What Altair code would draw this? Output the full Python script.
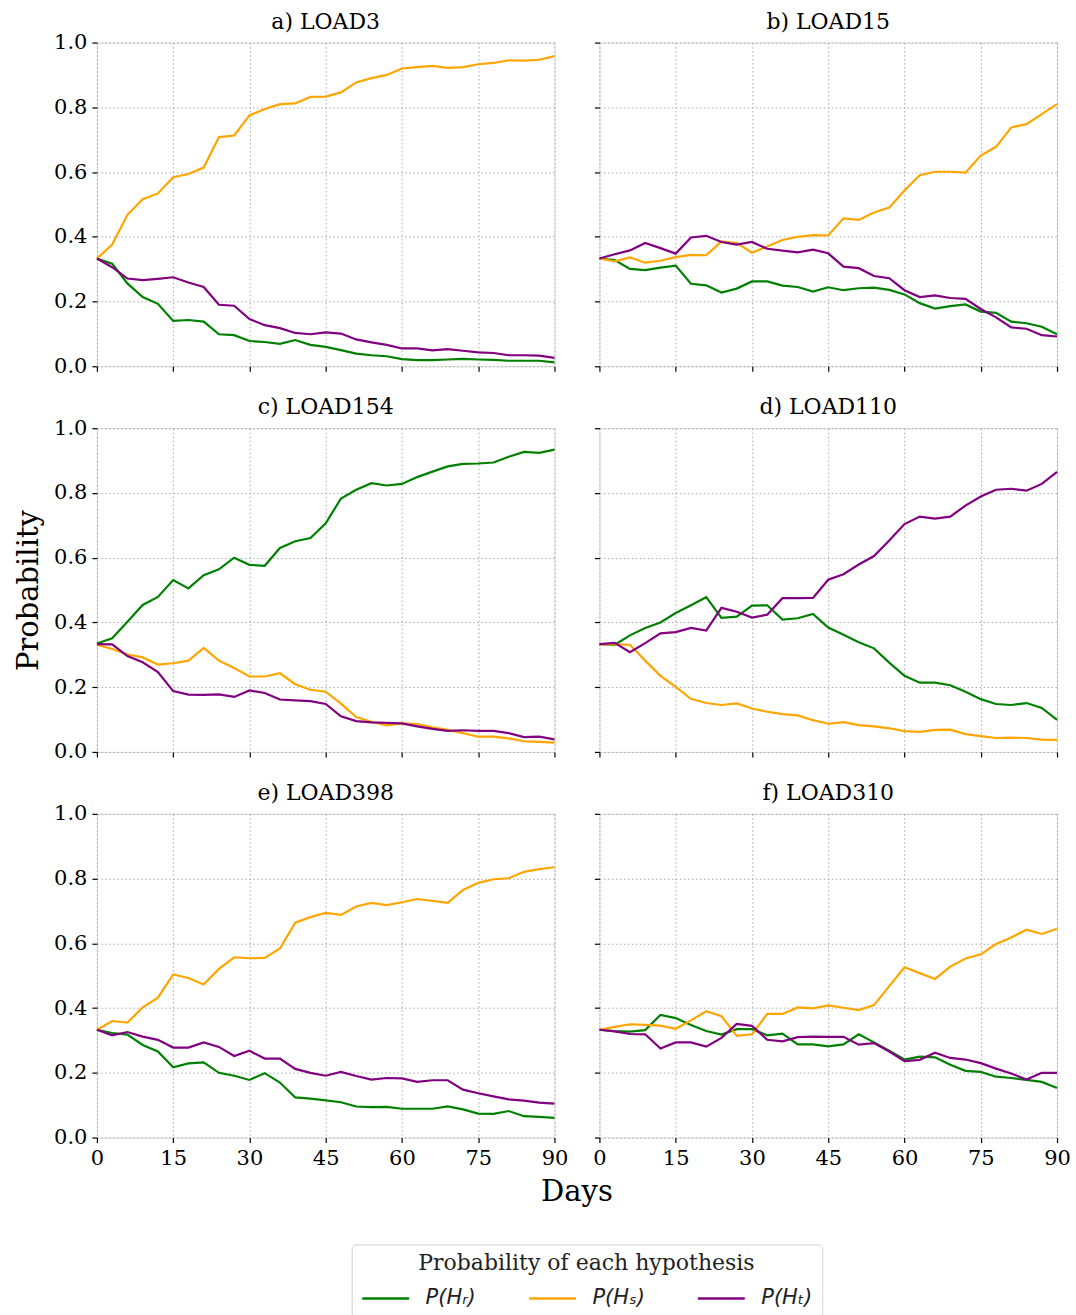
import altair as alt
import pandas as pd

days = list(range(0, 91, 3))
hyp_labels = ["P(Hᵣ)", "P(Hₛ)", "P(Hₜ)"]
hyp_colors = ["green", "orange", "purple"]
panel_titles = ["a) LOAD3", "b) LOAD15", "c) LOAD154", "d) LOAD110", "e) LOAD398", "f) LOAD310"]
x_ticks = [0, 15, 30, 45, 60, 75, 90]
y_ticks = [0.0, 0.2, 0.4, 0.6, 0.8, 1.0]

# a) LOAD3
a_R = [0.333, 0.317, 0.256, 0.214, 0.193, 0.140, 0.143, 0.138, 0.099, 0.096, 0.078, 0.075, 0.069, 0.081, 0.066, 0.060,
       0.050, 0.039, 0.034, 0.031, 0.022, 0.019, 0.019, 0.021, 0.023, 0.021, 0.020, 0.017, 0.017, 0.017, 0.012]
a_S = [0.333, 0.376, 0.468, 0.516, 0.534, 0.584, 0.594, 0.614, 0.708, 0.713, 0.775, 0.795, 0.810, 0.812, 0.832, 0.833,
       0.846, 0.877, 0.890, 0.900, 0.920, 0.924, 0.928, 0.922, 0.924, 0.933, 0.937, 0.945, 0.944, 0.947, 0.958]
a_T = [0.333, 0.306, 0.271, 0.266, 0.270, 0.275, 0.259, 0.245, 0.190, 0.187, 0.146, 0.127, 0.118, 0.103, 0.099, 0.105,
       0.101, 0.083, 0.074, 0.066, 0.055, 0.055, 0.049, 0.053, 0.048, 0.043, 0.041, 0.034, 0.034, 0.033, 0.026]
# b) LOAD15
b_R = [0.333, 0.328, 0.301, 0.297, 0.305, 0.311, 0.255, 0.250, 0.228, 0.240, 0.262, 0.262, 0.249, 0.245, 0.231, 0.244,
       0.235, 0.241, 0.243, 0.236, 0.222, 0.195, 0.178, 0.186, 0.191, 0.169, 0.165, 0.138, 0.133, 0.122, 0.099]
b_S = [0.333, 0.324, 0.336, 0.320, 0.326, 0.337, 0.344, 0.343, 0.386, 0.381, 0.351, 0.370, 0.390, 0.400, 0.405, 0.404,
       0.457, 0.452, 0.475, 0.490, 0.543, 0.590, 0.601, 0.601, 0.598, 0.651, 0.678, 0.738, 0.748, 0.779, 0.810]
b_T = [0.333, 0.346, 0.358, 0.381, 0.365, 0.348, 0.398, 0.403, 0.384, 0.376, 0.384, 0.363, 0.357, 0.352, 0.360, 0.349,
       0.308, 0.303, 0.279, 0.272, 0.235, 0.214, 0.219, 0.211, 0.208, 0.177, 0.151, 0.120, 0.116, 0.096, 0.092]
# c) LOAD154
c_R = [0.335, 0.351, 0.402, 0.454, 0.479, 0.531, 0.505, 0.546, 0.564, 0.600, 0.578, 0.575, 0.630, 0.651, 0.661, 0.706,
       0.783, 0.810, 0.830, 0.823, 0.828, 0.849, 0.866, 0.882, 0.890, 0.891, 0.894, 0.912, 0.927, 0.924, 0.934]
c_S = [0.331, 0.318, 0.301, 0.292, 0.270, 0.274, 0.282, 0.321, 0.282, 0.259, 0.233, 0.233, 0.243, 0.209, 0.192, 0.186,
       0.149, 0.108, 0.093, 0.082, 0.088, 0.086, 0.076, 0.068, 0.058, 0.047, 0.047, 0.042, 0.033, 0.031, 0.029]
c_T = [0.333, 0.332, 0.296, 0.277, 0.247, 0.188, 0.177, 0.176, 0.178, 0.170, 0.190, 0.182, 0.162, 0.159, 0.157, 0.148,
       0.110, 0.095, 0.091, 0.090, 0.088, 0.079, 0.071, 0.065, 0.067, 0.065, 0.065, 0.058, 0.046, 0.047, 0.039]
# d) LOAD110
d_R = [0.333, 0.331, 0.360, 0.383, 0.400, 0.429, 0.453, 0.478, 0.414, 0.418, 0.452, 0.453, 0.409, 0.413, 0.426, 0.384,
       0.362, 0.339, 0.320, 0.276, 0.235, 0.214, 0.214, 0.206, 0.186, 0.163, 0.148, 0.145, 0.151, 0.136, 0.099]
d_S = [0.333, 0.332, 0.331, 0.282, 0.235, 0.201, 0.164, 0.151, 0.145, 0.150, 0.134, 0.124, 0.117, 0.113, 0.098, 0.087,
       0.092, 0.083, 0.079, 0.073, 0.064, 0.062, 0.068, 0.069, 0.055, 0.049, 0.043, 0.044, 0.043, 0.038, 0.037]
d_T = [0.333, 0.337, 0.308, 0.336, 0.366, 0.370, 0.383, 0.375, 0.445, 0.433, 0.415, 0.424, 0.475, 0.475, 0.476, 0.532,
       0.549, 0.579, 0.605, 0.653, 0.704, 0.727, 0.721, 0.727, 0.761, 0.789, 0.810, 0.813, 0.807, 0.828, 0.865]
# e) LOAD398
e_R = [0.333, 0.323, 0.318, 0.286, 0.266, 0.217, 0.229, 0.232, 0.200, 0.191, 0.178, 0.199, 0.170, 0.124, 0.120, 0.115,
       0.109, 0.096, 0.094, 0.095, 0.089, 0.089, 0.089, 0.096, 0.087, 0.074, 0.073, 0.082, 0.066, 0.064, 0.061]
e_S = [0.333, 0.360, 0.355, 0.402, 0.432, 0.504, 0.493, 0.473, 0.521, 0.557, 0.554, 0.555, 0.584, 0.664, 0.681, 0.694,
       0.688, 0.714, 0.725, 0.718, 0.727, 0.737, 0.731, 0.725, 0.765, 0.787, 0.798, 0.801, 0.821, 0.829, 0.835]
e_T = [0.333, 0.316, 0.326, 0.312, 0.302, 0.278, 0.278, 0.294, 0.280, 0.252, 0.268, 0.244, 0.244, 0.212, 0.200, 0.191,
       0.203, 0.190, 0.179, 0.184, 0.183, 0.172, 0.177, 0.177, 0.148, 0.137, 0.127, 0.118, 0.114, 0.108, 0.105]
# f) LOAD310
f_R = [0.333, 0.329, 0.327, 0.332, 0.379, 0.369, 0.348, 0.329, 0.318, 0.335, 0.335, 0.316, 0.321, 0.288, 0.288, 0.282,
       0.288, 0.319, 0.294, 0.268, 0.241, 0.250, 0.248, 0.225, 0.206, 0.203, 0.188, 0.184, 0.178, 0.172, 0.153]
f_S = [0.333, 0.342, 0.350, 0.348, 0.346, 0.336, 0.362, 0.390, 0.375, 0.314, 0.319, 0.382, 0.382, 0.402, 0.399, 0.408,
       0.401, 0.394, 0.409, 0.468, 0.526, 0.508, 0.490, 0.528, 0.553, 0.566, 0.598, 0.618, 0.642, 0.629, 0.645]
f_T = [0.333, 0.328, 0.320, 0.319, 0.275, 0.294, 0.294, 0.281, 0.308, 0.351, 0.345, 0.302, 0.297, 0.310, 0.312, 0.311,
       0.311, 0.287, 0.292, 0.266, 0.236, 0.240, 0.262, 0.246, 0.241, 0.230, 0.213, 0.198, 0.179, 0.200, 0.200]

series = {
    panel_titles[0]: [a_R, a_S, a_T],
    panel_titles[1]: [b_R, b_S, b_T],
    panel_titles[2]: [c_R, c_S, c_T],
    panel_titles[3]: [d_R, d_S, d_T],
    panel_titles[4]: [e_R, e_S, e_T],
    panel_titles[5]: [f_R, f_S, f_T],
}

rows = []
for ptitle, vals in series.items():
    for hi, hv in enumerate(vals):
        for d, v in zip(days, hv):
            rows.append({"panel": ptitle, "day": d, "hyp": hyp_labels[hi], "order": hi, "prob": v})
df = pd.DataFrame(rows)

SERIF = "DejaVu Serif"
PW, PH = 458, 324

color = alt.Color(
    "hyp:N",
    scale=alt.Scale(domain=hyp_labels, range=hyp_colors),
    legend=alt.Legend(
        title="Probability of each hypothesis",
        orient="none",
        legendX=255,
        legendY=1203,
        direction="horizontal",
        columns=3,
        titleAnchor="middle",
        titleFont=SERIF,
        titleFontSize=22,
        titleFontWeight="normal",
        titleColor="#222222",
        titlePadding=-2,
        titleLimit=800,
        labelLimit=300,
        labelFont="DejaVu Sans",
        labelFontStyle="italic",
        labelFontSize=21,
        labelColor="#222222",
        labelOffset=15,
        symbolType="stroke",
        symbolSize=2200,
        symbolStrokeWidth=2.5,
        symbolOpacity=1,
        columnPadding=47,
        padding=9,
        strokeColor="#d0d0d0",
        fillColor="white",
        cornerRadius=4,
    ),
)

GRID = dict(grid=True, gridDash=[1.5, 2.5], gridColor="#a8a8a8", gridWidth=1)
TICK = dict(domain=False, ticks=True, tickSize=5, tickColor="black", tickWidth=1.2,
            labelFont=SERIF, labelFontSize=21, labelColor="black", labelPadding=5)


def panel(idx):
    ptitle = panel_titles[idx]
    col = idx % 2
    row = idx // 2
    sub = df[df["panel"] == ptitle]
    x_kwargs = dict(values=x_ticks, labels=(row == 2), labelFlush=False, **GRID, **TICK)
    if idx == 4:
        x_axis = alt.Axis(title="Days", titleFont=SERIF, titleFontSize=29, titleFontWeight="normal",
                          titleColor="black", titleX=480, titleY=54, titleAlign="center",
                          titleBaseline="middle", **x_kwargs)
    else:
        x_axis = alt.Axis(title=None, **x_kwargs)
    # right column keeps (invisible) labels so every panel has the same vertical bounds
    y_kwargs = dict(values=y_ticks, format=".1f", labels=True, labelOpacity=(1 if col == 0 else 0),
                    labelFlush=False, **GRID, **TICK)
    if idx == 2:
        y_axis = alt.Axis(title="Probability", titleFont=SERIF, titleFontSize=29, titleFontWeight="normal",
                          titleColor="black", titlePadding=10, **y_kwargs)
    else:
        y_axis = alt.Axis(title=None, **y_kwargs)
    return (
        alt.Chart(sub)
        .mark_line(strokeWidth=2.2)
        .encode(
            x=alt.X("day:Q", scale=alt.Scale(domain=[0, 90], nice=False), axis=x_axis),
            y=alt.Y("prob:Q", scale=alt.Scale(domain=[0, 1], nice=False), axis=y_axis),
            color=color,
            order=alt.Order("order:Q"),
        )
        .properties(
            width=PW,
            height=PH,
            title=alt.TitleParams(ptitle, font=SERIF, fontSize=22, fontWeight="normal",
                                  color="black", offset=-2, anchor="middle", frame="group"),
        )
    )


chart = (
    alt.concat(*[panel(i) for i in range(6)], columns=2,
               spacing=alt.RowColnumber(row=62, column=45), bounds="flush")
    .properties(padding={"left": 14, "top": 9, "right": 5, "bottom": 5})
    .configure_view(stroke="black", strokeWidth=1.3)
    .configure(background="white")
)

chart.save("out.html", embed_options={"renderer": "svg", "actions": False})
